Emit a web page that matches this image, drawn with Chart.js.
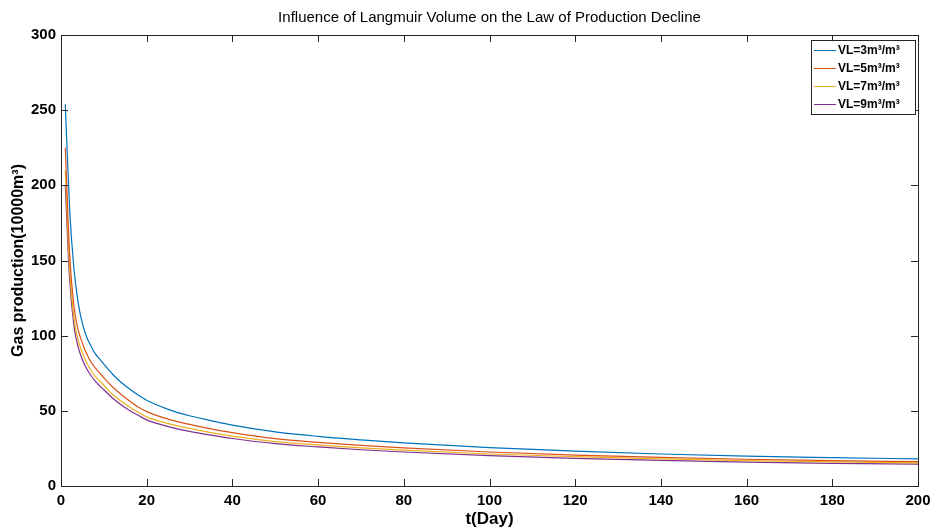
<!DOCTYPE html>
<html>
<head>
<meta charset="utf-8">
<script src="https://cdn.jsdelivr.net/npm/chart.js@4.4.1/dist/chart.umd.min.js"></script>
<style>
  html, body { margin: 0; padding: 0; background: #fff; }
  #wrap { width: 933px; height: 531px; }
</style>
</head>
<body>
<div id="wrap"><canvas id="declineChart" width="933" height="531"></canvas></div>
<script>
// days (t) shared by all four curves
const days = [1, 2, 3, 4, 5, 6, 7, 8, 9, 10, 12, 14, 16, 18, 20, 25, 30, 35, 40, 50, 60, 70, 80, 100, 120, 140, 160, 180, 200];

// gas production, 10000 m3
const vl3 = [254, 185, 145, 122, 108, 99, 93, 88, 84.5, 81, 74.5, 69, 64.5, 60.5, 57, 51, 46.7, 43.5, 40.5, 36, 33, 30.7, 28.7, 25.5, 23.2, 21.3, 19.9, 18.9, 18.0];
const vl5 = [225, 155, 120, 104, 95, 88, 82.5, 78.5, 75.2, 72, 66, 61, 56.5, 52.5, 49.5, 44.5, 41, 38, 35.5, 31.5, 29, 27, 25.3, 22.6, 20.6, 19, 17.8, 16.9, 16.2];
const vl7 = [210, 145, 112, 97, 88.5, 82, 77, 73, 70, 67, 61, 56.5, 52.5, 49, 46, 41.5, 38.3, 35.5, 33.2, 29.5, 27.3, 25.3, 23.8, 21.3, 19.5, 18, 16.9, 16.1, 15.4];
const vl9 = [200, 138, 107, 92.5, 84, 78, 73.5, 69.8, 66.8, 64, 58.5, 54, 50.2, 47, 44, 39.5, 36.3, 33.8, 31.6, 28.2, 26, 24.1, 22.6, 20.2, 18.4, 17, 15.9, 15.1, 14.5];

const seriesLabels = ['VL=3m³/m³', 'VL=5m³/m³', 'VL=7m³/m³', 'VL=9m³/m³'];
const seriesColors = ['#0072BD', '#D95319', '#EDB120', '#7E2F8E'];

const xTicks = [0, 20, 40, 60, 80, 100, 120, 140, 160, 180, 200];
const yTicks = [0, 50, 100, 150, 200, 250, 300];

const titleText = 'Influence of Langmuir Volume on the Law of Production Decline';
const FONT = "'Liberation Sans', Arial, sans-serif";
const AXIS_COLOR = '#262626';

function toPoints(vals) {
  return days.map((d, i) => ({ x: d, y: vals[i] }));
}

// MATLAB-like box: frame, inward ticks on all sides, title, legend
const matlabBox = {
  id: 'matlabBox',
  afterDatasetsDraw(chart) {
    const { ctx, chartArea: a, scales } = chart;
    const tl = 7;
    ctx.save();
    ctx.strokeStyle = AXIS_COLOR;
    ctx.lineWidth = 1;
    ctx.beginPath();
    xTicks.forEach(v => {
      const px = Math.round(scales.x.getPixelForValue(v)) + 0.5;
      ctx.moveTo(px, a.bottom); ctx.lineTo(px, a.bottom - tl);
      ctx.moveTo(px, a.top); ctx.lineTo(px, a.top + tl);
    });
    yTicks.forEach(v => {
      const py = Math.round(scales.y.getPixelForValue(v)) + 0.5;
      ctx.moveTo(a.left, py); ctx.lineTo(a.left + tl, py);
      ctx.moveTo(a.right, py); ctx.lineTo(a.right - tl, py);
    });
    ctx.stroke();
    ctx.strokeRect(Math.round(a.left) + 0.5, Math.round(a.top) + 0.5,
      Math.round(a.right - a.left), Math.round(a.bottom - a.top));

    // title
    ctx.fillStyle = '#000';
    ctx.font = '15px ' + FONT;
    ctx.textAlign = 'center';
    ctx.textBaseline = 'middle';
    ctx.fillText(titleText, (a.left + a.right) / 2, 18);

    // legend in the top right corner
    const lx = 811, ly = 40, lw = 104, lh = 74;
    ctx.fillStyle = '#fff';
    ctx.fillRect(lx, ly, lw, lh);
    ctx.strokeStyle = AXIS_COLOR;
    ctx.strokeRect(lx + 0.5, ly + 0.5, lw, lh);
    ctx.font = 'bold 12px ' + FONT;
    ctx.textAlign = 'left';
    seriesLabels.forEach((lab, i) => {
      const y = ly + 10 + i * 18;
      ctx.strokeStyle = seriesColors[i];
      ctx.beginPath();
      ctx.moveTo(lx + 3, y + 0.5); ctx.lineTo(lx + 25, y + 0.5);
      ctx.stroke();
      ctx.fillStyle = '#000';
      ctx.fillText(lab, lx + 27, y + 1);
    });
    ctx.restore();
  }
};

new Chart(document.getElementById('declineChart'), {
  type: 'line',
  data: {
    datasets: [vl3, vl5, vl7, vl9].map((vals, i) => ({
      label: seriesLabels[i],
      data: toPoints(vals),
      borderColor: seriesColors[i],
      backgroundColor: seriesColors[i],
      borderWidth: 1.2,
      pointRadius: 0,
      cubicInterpolationMode: 'monotone',
      fill: false
    }))
  },
  options: {
    responsive: false,
    animation: false,
    layout: { padding: { top: 35, right: 15, left: 0, bottom: 0 } },
    plugins: {
      legend: { display: false },
      title: { display: false },
      tooltip: { enabled: false }
    },
    scales: {
      x: {
        type: 'linear',
        min: 0, max: 200,
        afterBuildTicks: s => { s.ticks = xTicks.map(v => ({ value: v })); },
        afterFit: s => { s.height = 45; s.paddingLeft = 0; s.paddingRight = 0; },
        grid: { display: false, drawTicks: false },
        border: { display: false },
        ticks: { color: '#000', padding: 6, maxRotation: 0, font: { family: FONT, size: 15, weight: 'bold' } },
        title: { display: true, text: 't(Day)', color: '#000', padding: { top: 0, bottom: 1 }, font: { family: FONT, size: 17, weight: 'bold' } }
      },
      y: {
        min: 0, max: 300,
        afterBuildTicks: s => { s.ticks = yTicks.map(v => ({ value: v })); },
        afterFit: s => { s.width = 61; s.paddingTop = 0; s.paddingBottom = 0; },
        grid: { display: false, drawTicks: false },
        border: { display: false },
        ticks: { color: '#000', padding: 5, font: { family: FONT, size: 15, weight: 'bold' } },
        title: { display: true, text: 'Gas production(10000m³)', color: '#000', padding: { top: 9, bottom: 0 }, font: { family: FONT, size: 16, weight: 'bold' } }
      }
    }
  },
  plugins: [matlabBox]
});
</script>
</body>
</html>
